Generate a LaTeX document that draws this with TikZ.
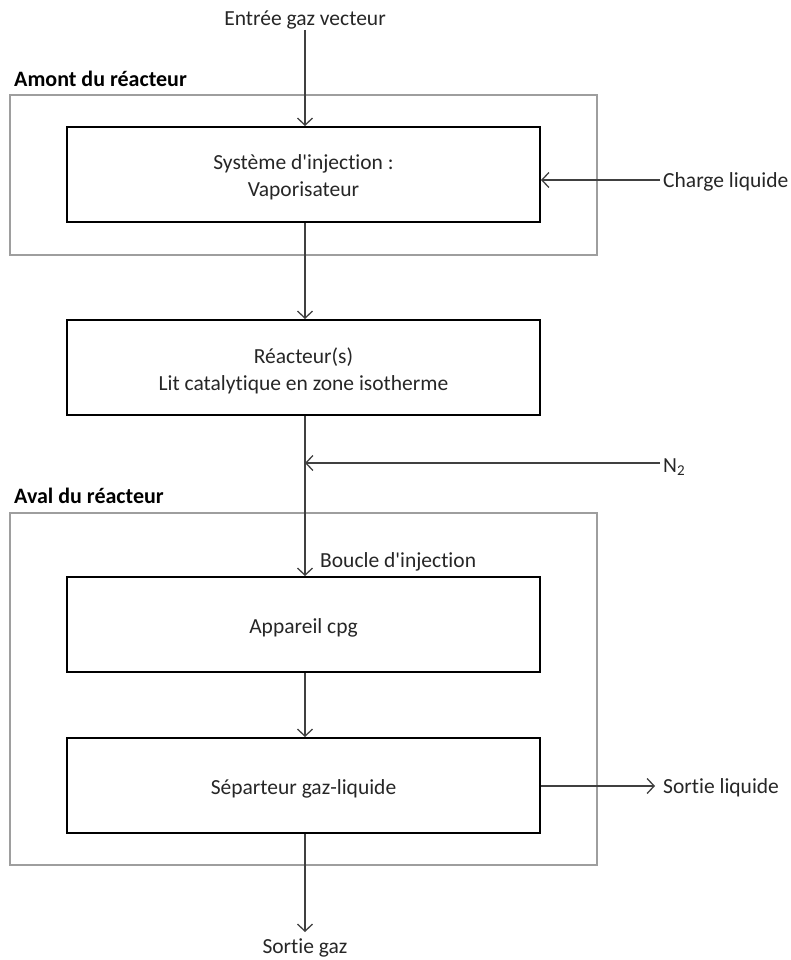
\documentclass[tikz,border=0pt]{standalone}
\usepackage{fontspec}
\setmainfont{Carlito}[Ligatures={NoCommon}]
\usetikzlibrary{arrows.meta}
\newcommand{\apos}{\textquotesingle}
\begin{document}
\begin{tikzpicture}[x=1pt,y=-1pt,
  txt/.style={font=\fontsize{21.5}{27}\selectfont, inner sep=0pt, text=black!85},
  ttl/.style={font=\fontsize{22}{26}\selectfont\bfseries, inner sep=0pt, anchor=west},
  blk/.style={draw=black, line width=2pt, minimum width=473pt, minimum height=95pt, inner sep=0pt},
  blktxt/.style={txt, align=center, yshift=-3pt},
  grp/.style={draw=black!38, line width=2pt},
  flow/.style={draw=black!75, line width=1.3pt, -{Straight Barb[length=7pt,width=15pt,line width=1.3pt]}}]
\useasboundingbox (0,0) rectangle (790,960);
% group frames
\draw[grp] (10,95) rectangle (597,255);
\draw[grp] (10,513) rectangle (597,865);
\node[ttl] (amont) at (14,79) {Amont du réacteur};
\node[ttl] (aval) at (14,496) {Aval du réacteur};
% blocks
\node[blk, label={[blktxt]center:Système d\apos injection :\\Vaporisateur}] (inj) at (303.5,174.5) {};
\node[blk, label={[blktxt]center:Réacteur(s)\\Lit catalytique en zone isotherme}] (rea) at (303.5,367.5) {};
\node[blk, label={[blktxt]center:Appareil cpg}] (cpg) at (303.5,624.5) {};
\node[blk, label={[blktxt]center:Séparteur gaz-liquide}] (sep) at (303.5,785.5) {};
% texts
\node[txt] (entree) at (305,20) {Entrée gaz vecteur};
\node[txt, anchor=west] (charge) at (663,182) {Charge liquide};
\node[txt, anchor=west] (n2) at (663,467) {N\textsubscript{2}};
\node[txt, anchor=west] (boucle) at (320,562) {Boucle d\apos injection};
\node[txt, anchor=west] (sliq) at (663,788) {Sortie liquide};
\node[txt] (sgaz) at (305,948) {Sortie gaz};
% coordinates
\coordinate (inTop) at (305,30);
\coordinate (chg) at (660,180);
\coordinate (n2s) at (660,463);
\coordinate (n2j) at (305,463);
\coordinate (liqEnd) at (655,786);
\coordinate (gazEnd) at (305,932);
% connectors
\draw[flow] (inTop) -- (inj.north -| inTop);
\draw[flow] (chg) -- (inj.east |- chg);
\draw[flow] (inj.south -| inTop) -- (rea.north -| inTop);
\draw[flow] (rea.south -| inTop) -- (cpg.north -| inTop);
\draw[flow] (n2s) -- (n2j);
\draw[flow] (cpg.south -| inTop) -- (sep.north -| inTop);
\draw[flow] (sep.east |- liqEnd) -- (liqEnd);
\draw[flow] (sep.south -| inTop) -- (gazEnd);
\end{tikzpicture}
\end{document}
